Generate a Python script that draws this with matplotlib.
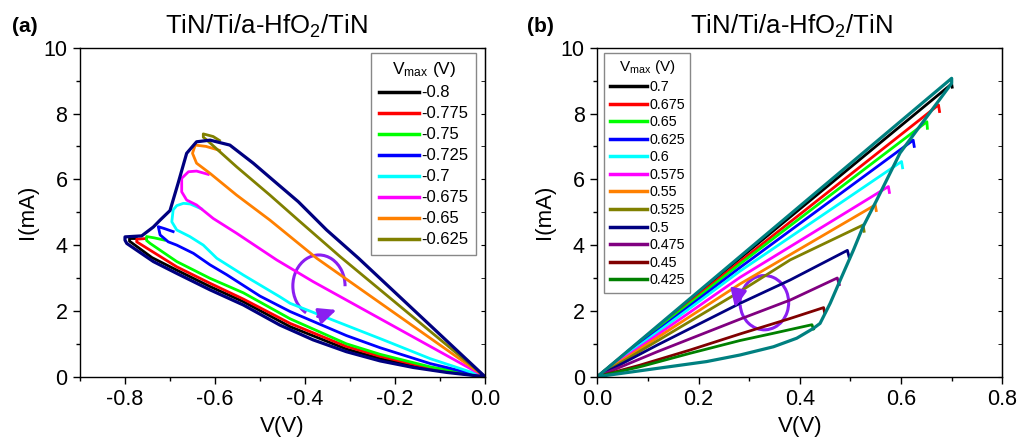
import matplotlib
matplotlib.use("Agg")
import matplotlib.pyplot as plt
from matplotlib.patches import Arc
from matplotlib.ticker import MultipleLocator, FormatStrFormatter

plt.rcParams['font.family'] = ['Liberation Sans', 'DejaVu Sans']
plt.rcParams['mathtext.default'] = 'regular'
plt.rcParams['axes.unicode_minus'] = False

# ---------- panel (a): negative sweeps, V in volts, I in mA ----------
a_labels = ['-0.8', '-0.775', '-0.75', '-0.725', '-0.7', '-0.675', '-0.65', '-0.625']
a_colors = ['#000000', '#FF0000', '#00FF00', '#0000FF', '#00FFFF', '#FF00FF', '#FF8000', '#808000']

a_v_black = [-0.775, -0.790, -0.790, -0.740, -0.685, -0.611, -0.537, -0.433, -0.308, -0.233, -0.122, 0]
a_i_black = [4.20, 4.20, 4.12, 3.62, 3.24, 2.74, 2.28, 1.52, 0.84, 0.55, 0.22, 0]
a_v_red = [-0.752, -0.774, -0.774, -0.685, -0.611, -0.537, -0.433, -0.308, -0.233, -0.122, 0]
a_i_red = [4.20, 4.18, 4.10, 3.34, 2.84, 2.36, 1.62, 0.92, 0.62, 0.26, 0]
a_v_green = [-0.712, -0.735, -0.752, -0.752, -0.744, -0.685, -0.611, -0.537, -0.433, -0.308, -0.233, -0.122, 0]
a_i_green = [4.15, 4.22, 4.26, 4.14, 4.05, 3.50, 2.99, 2.55, 1.76, 1.00, 0.68, 0.30, 0]
a_v_blue = [-0.693, -0.712, -0.726, -0.722, -0.704, -0.685, -0.648, -0.611, -0.574, -0.500, -0.433, -0.308, -0.233, -0.122, 0]
a_i_blue = [4.41, 4.50, 4.56, 4.31, 4.10, 4.00, 3.75, 3.40, 3.10, 2.45, 1.98, 1.25, 0.88, 0.40, 0]
a_v_cyan = [-0.630, -0.655, -0.670, -0.685, -0.693, -0.696, -0.685, -0.656, -0.626, -0.596, -0.537, -0.456, -0.433, -0.226, -0.122, 0]
a_i_cyan = [5.10, 5.25, 5.27, 5.20, 5.07, 4.71, 4.46, 4.26, 4.00, 3.60, 3.09, 2.43, 2.23, 1.12, 0.55, 0]
a_v_magenta = [-0.615, -0.641, -0.659, -0.674, -0.674, -0.663, -0.641, -0.604, -0.552, -0.463, -0.382, 0]
a_i_magenta = [6.15, 6.25, 6.23, 6.03, 5.62, 5.37, 5.22, 4.81, 4.36, 3.55, 2.89, 0]
a_v_orange = [-0.590, -0.620, -0.644, -0.650, -0.641, -0.611, -0.552, -0.478, -0.374, 0]
a_i_orange = [6.88, 7.00, 7.04, 6.79, 6.49, 6.18, 5.52, 4.76, 3.60, 0]
a_v_olive = [-0.590, -0.604, -0.626, -0.626, -0.618, -0.552, -0.478, -0.415, -0.322, 0]
a_i_olive = [7.18, 7.30, 7.38, 7.28, 7.19, 6.38, 5.52, 4.76, 3.65, 0]
# full first loop (navy envelope, not in legend)
a_v_env = [0, -0.281, -0.352, -0.415, -0.463, -0.515, -0.567, -0.611, -0.641, -0.663,
           -0.682, -0.700, -0.722, -0.737, -0.763, -0.800, -0.800, -0.796, -0.737, -0.685,
           -0.611, -0.537, -0.456, -0.382, -0.308, -0.233, -0.159, -0.085, 0]
a_i_env = [0, 3.60, 4.46, 5.32, 5.88, 6.49, 7.04, 7.19, 7.14, 6.79,
           5.88, 5.05, 4.76, 4.55, 4.28, 4.25, 4.15, 4.05, 3.50, 3.14,
           2.64, 2.18, 1.57, 1.12, 0.76, 0.48, 0.28, 0.13, 0]

# ---------- panel (b): positive sweeps ----------
b_labels = ['0.7', '0.675', '0.65', '0.625', '0.6', '0.575', '0.55', '0.525', '0.5', '0.475', '0.45', '0.425']
b_colors = ['#000000', '#FF0000', '#00FF00', '#0000FF', '#00FFFF', '#FF00FF', '#FF8000', '#808000',
            '#000080', '#800080', '#800000', '#008000']

b_v_070 = [0.701, 0.700, 0.282, 0]
b_i_070 = [8.80, 8.90, 3.60, 0]
b_v_0675 = [0.676, 0.674, 0.282, 0]
b_i_0675 = [8.06, 8.26, 3.50, 0]
b_v_065 = [0.652, 0.651, 0.282, 0]
b_i_065 = [7.55, 7.75, 3.43, 0]
b_v_0625 = [0.626, 0.624, 0.282, 0]
b_i_0625 = [7.00, 7.19, 3.32, 0]
b_v_060 = [0.603, 0.601, 0.282, 0]
b_i_060 = [6.35, 6.54, 3.21, 0]
b_v_0575 = [0.577, 0.575, 0.282, 0]
b_i_0575 = [5.60, 5.78, 3.02, 0]
b_v_055 = [0.551, 0.549, 0.282, 0]
b_i_055 = [5.05, 5.22, 2.82, 0]
b_v_0525 = [0.527, 0.525, 0.381, 0.282, 0]
b_i_0525 = [4.42, 4.61, 3.55, 2.59, 0]
b_v_050 = [0.498, 0.494, 0.381, 0.282, 0.117, 0]
b_i_050 = [3.60, 3.84, 2.94, 2.23, 0.95, 0]
b_v_0475 = [0.478, 0.474, 0.381, 0.282, 0.117, 0]
b_i_0475 = [2.80, 3.00, 2.33, 1.75, 0.75, 0]
b_v_045 = [0.449, 0.447, 0.381, 0.282, 0.183, 0.084, 0]
b_i_045 = [1.95, 2.10, 1.77, 1.30, 0.81, 0.35, 0]
b_v_0425 = [0.427, 0.424, 0.348, 0.282, 0.183, 0.084, 0]
b_i_0425 = [1.45, 1.58, 1.32, 1.10, 0.71, 0.30, 0]
# full loop (teal envelope, not in legend)
b_v_env = [0, 0.117, 0.216, 0.282, 0.348, 0.394, 0.427, 0.440, 0.460, 0.480, 0.506, 0.525,
           0.552, 0.598, 0.700, 0.700, 0]
b_i_env = [0, 0.25, 0.46, 0.66, 0.91, 1.17, 1.47, 1.62, 2.23, 2.94, 3.85, 4.56,
           5.37, 6.80, 8.92, 9.07, 0]

a_curves = [(a_v_black, a_i_black), (a_v_red, a_i_red), (a_v_green, a_i_green),
            (a_v_blue, a_i_blue), (a_v_cyan, a_i_cyan), (a_v_magenta, a_i_magenta),
            (a_v_orange, a_i_orange), (a_v_olive, a_i_olive)]
b_curves = [(b_v_070, b_i_070), (b_v_0675, b_i_0675), (b_v_065, b_i_065), (b_v_0625, b_i_0625),
            (b_v_060, b_i_060), (b_v_0575, b_i_0575), (b_v_055, b_i_055), (b_v_0525, b_i_0525),
            (b_v_050, b_i_050), (b_v_0475, b_i_0475), (b_v_045, b_i_045), (b_v_0425, b_i_0425)]

fig = plt.figure(figsize=(10.2, 4.46), dpi=100)
ax_a = fig.add_axes([80 / 1020, 1 - 376.7 / 446, 405 / 1020, 329 / 446])
ax_b = fig.add_axes([597.3 / 1020, 1 - 376.7 / 446, 405 / 1020, 329 / 446])

arrow_col = '#8A1EF0'
head = dict(arrowstyle='-|>,head_length=0.7,head_width=0.32', color=arrow_col, lw=2.2,
            shrinkA=0, shrinkB=0, mutation_scale=15)


def style_axes(ax, xlim, xmajor, title_x):
    ax.set_xlim(*xlim)
    ax.set_ylim(0, 10)
    ax.xaxis.set_major_locator(MultipleLocator(xmajor))
    ax.xaxis.set_minor_locator(MultipleLocator(xmajor / 2))
    ax.xaxis.set_major_formatter(FormatStrFormatter('%.1f'))
    ax.yaxis.set_major_locator(MultipleLocator(2))
    ax.yaxis.set_minor_locator(MultipleLocator(1))
    ax.tick_params(which='major', direction='out', length=5, width=1, labelsize=15.5, pad=4)
    ax.tick_params(which='minor', direction='out', length=3, width=1)
    for s in ax.spines.values():
        s.set_linewidth(1)
    sec = ax.secondary_yaxis('right')
    sec.yaxis.set_major_locator(MultipleLocator(2))
    sec.yaxis.set_minor_locator(MultipleLocator(1))
    sec.tick_params(which='both', direction='in', length=3, labelright=False)
    ax.set_xlabel('V(V)', fontsize=16)
    ax.set_ylabel('I(mA)', fontsize=16, labelpad=4)
    ax.set_title('TiN/Ti/a-HfO$_2$/TiN', fontsize=18.5, pad=10, x=title_x)


# panel (a)
for (v, i), lab, col in zip(a_curves, a_labels, a_colors):
    ax_a.plot(v, i, color=col, lw=2, label=lab, solid_joinstyle='round')
ax_a.plot(a_v_env, a_i_env, color='#000080', lw=2.3, solid_joinstyle='round')
style_axes(ax_a, (-0.9, 0.0), 0.2, 0.46)
leg_a = ax_a.legend(loc='upper right', bbox_to_anchor=(0.978, 0.984), borderaxespad=0,
                    fontsize=12, title='V$_{max}$ (V)', title_fontsize=12.5,
                    handlelength=2.4, handletextpad=0.15, labelspacing=0.36, borderpad=0.45,
                    fancybox=False, edgecolor='#888888', framealpha=1)
leg_a.get_frame().set_linewidth(1)
for ln in leg_a.get_lines():
    ln.set_linewidth(2.5)
ax_a.add_patch(Arc((-0.369, 2.76), 0.116, 1.88, theta1=-10, theta2=268,
                   color=arrow_col, lw=2.2))
ax_a.annotate('', xy=(-0.330, 2.03), xytext=(-0.372, 1.83), arrowprops=head)

# panel (b)
for (v, i), lab, col in zip(b_curves, b_labels, b_colors):
    ax_b.plot(v, i, color=col, lw=2, label=lab, solid_joinstyle='round')
ax_b.plot(b_v_env, b_i_env, color='#008080', lw=2.3, solid_joinstyle='round')
style_axes(ax_b, (0.0, 0.8), 0.2, 0.478)
leg_b = ax_b.legend(loc='upper left', bbox_to_anchor=(0.0165, 0.985), borderaxespad=0,
                    fontsize=10.3, title='V$_{max}$ (V)', title_fontsize=11,
                    handlelength=2.6, handletextpad=0.15, labelspacing=0.25, borderpad=0.4,
                    fancybox=False, edgecolor='#888888', framealpha=1)
leg_b.get_frame().set_linewidth(1)
for ln in leg_b.get_lines():
    ln.set_linewidth(2.5)
ax_b.add_patch(Arc((0.330, 2.25), 0.096, 1.65, theta1=234, theta2=522,
                   color=arrow_col, lw=2.2))
ax_b.annotate('', xy=(0.272, 2.10), xytext=(0.279, 2.62), arrowprops=head)

fig.text(12 / 1020, 1 - 26 / 446, '(a)', fontsize=15, fontweight='bold', va='center')
fig.text(527 / 1020, 1 - 26 / 446, '(b)', fontsize=15, fontweight='bold', va='center')

fig.savefig('out.png', dpi=100)
